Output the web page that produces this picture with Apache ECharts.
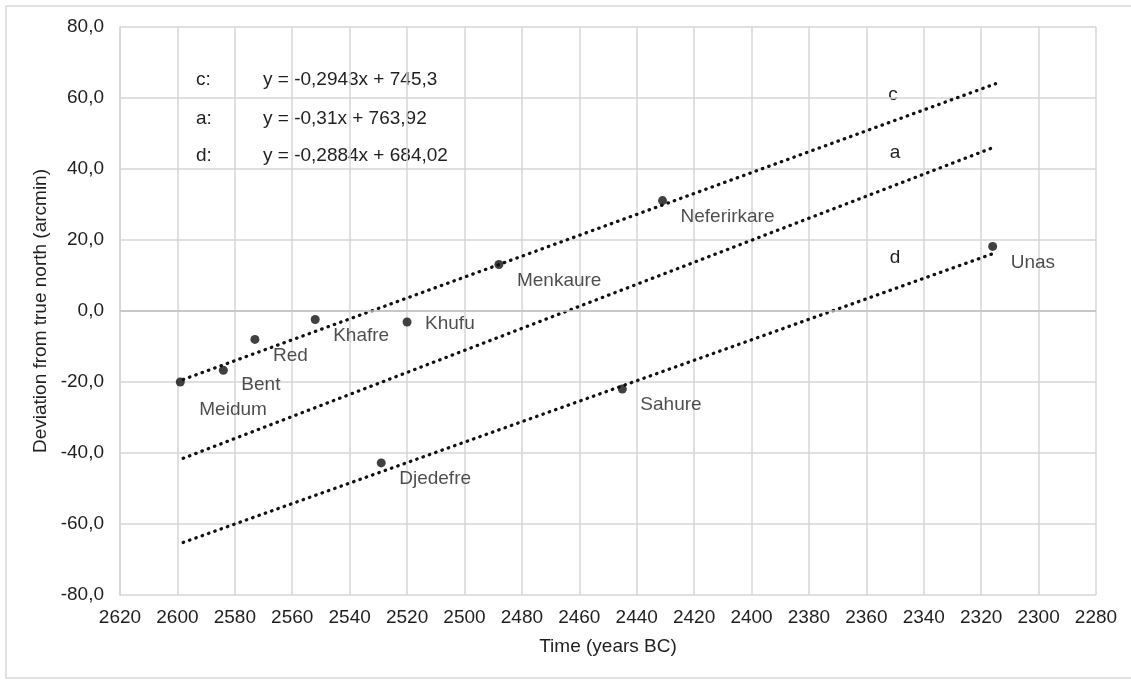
<!DOCTYPE html>
<html>
<head>
<meta charset="utf-8">
<script src="https://cdn.jsdelivr.net/npm/echarts@6/dist/echarts.min.js"></script>
<style>
  html, body { margin: 0; padding: 0; background: #fff; }
  #chart { width: 1131px; height: 680px; }
</style>
</head>
<body>
<div id="chart"></div>
<script>
// pyramids
var pyramidNames = ['Meidum', 'Bent', 'Red', 'Khafre', 'Khufu', 'Djedefre', 'Menkaure', 'Neferirkare', 'Sahure', 'Unas'];
var pyramidYears = [2599, 2584, 2573, 2552, 2520, 2529, 2488, 2431, 2445, 2316];
var pyramidDeviation = [-20.0, -16.7, -8.0, -2.4, -3.1, -42.8, 13.1, 31.1, -22.0, 18.2];

// trend lines (end points)
var trendYears = [2598, 2315];
var trendC = [-19.3, 64.0];
var trendA = [-41.5, 46.3];
var trendD = [-65.2, 16.4];

var equationKeys = ['c:', 'a:', 'd:'];
var equationTexts = ['y = -0,2943x + 745,3', 'y = -0,31x + 763,92', 'y = -0,2884x + 684,02'];

var xTicks = { min: 2280, max: 2620, step: 20 };
var yTicks = { min: -80, max: 80, step: 20 };

var FONT = '"Liberation Sans", Arial, sans-serif';
var FS = 19;
var TEXT_COLOR = '#1f1f1f';
var GRID_COLOR = '#d6d6d6';

// label nudges (px from point centre)
var labelNudge = { Meidum: [19, 28], Khufu: [18, 2], Bent: [18, 14] };

var chartDom = document.getElementById('chart');
var myChart = echarts.init(chartDom);

var scatterData = pyramidNames.map(function (n, i) {
  var off = labelNudge[n] || [18, 16];
  return {
    name: n,
    value: [pyramidYears[i], pyramidDeviation[i]],
    label: { position: [4.5 + off[0], 4.5 + off[1]] }
  };
});

function trendSeries(name, vals) {
  return {
    name: name,
    type: 'line',
    data: trendYears.map(function (x, i) { return [x, vals[i]]; }),
    symbol: 'none',
    silent: true,
    z: 3,
    lineStyle: { color: '#111', width: 3.3, type: [0.5, 6.2], cap: 'round' }
  };
}

var graphics = [
  {
    type: 'rect',
    shape: { x: 6, y: 6, width: 1140, height: 672 },
    style: { fill: 'none', stroke: '#d9d9d9', lineWidth: 1.5 },
    silent: true
  }
];
var eqY = [80, 119, 156];
equationKeys.forEach(function (k, i) {
  graphics.push({
    type: 'text', x: 196, y: eqY[i],
    style: { text: k, font: FS + 'px ' + FONT, fill: TEXT_COLOR, verticalAlign: 'middle' }
  });
  graphics.push({
    type: 'text', x: 263, y: eqY[i],
    style: { text: equationTexts[i], font: FS + 'px ' + FONT, fill: TEXT_COLOR, verticalAlign: 'middle' }
  });
});
// line names
[['c', 893, 95], ['a', 895, 153], ['d', 895, 258]].forEach(function (t) {
  graphics.push({
    type: 'text', x: t[1], y: t[2],
    style: { text: t[0], font: FS + 'px ' + FONT, fill: TEXT_COLOR, align: 'center', verticalAlign: 'middle' }
  });
});

var option = {
  backgroundColor: '#fff',
  animation: false,
  grid: { left: 120, right: 35, top: 27, bottom: 85, containLabel: false },
  xAxis: {
    type: 'value',
    inverse: true,
    min: xTicks.min,
    max: xTicks.max,
    interval: xTicks.step,
    name: 'Time (years BC)',
    nameLocation: 'middle',
    nameGap: 42,
    nameTextStyle: { color: TEXT_COLOR, fontSize: FS, fontFamily: FONT },
    axisLine: { show: true, lineStyle: { color: GRID_COLOR, width: 1.5 } },
    axisTick: { show: false },
    axisLabel: {
      color: TEXT_COLOR, fontSize: FS, fontFamily: FONT, margin: 13,
      formatter: function (v) { return String(v); }
    },
    splitLine: { show: true, lineStyle: { color: GRID_COLOR, width: 1.5 } }
  },
  yAxis: {
    type: 'value',
    min: yTicks.min,
    max: yTicks.max,
    interval: yTicks.step,
    name: 'Deviation from true north (arcmin)',
    nameLocation: 'middle',
    nameGap: 69,
    nameTextStyle: { color: TEXT_COLOR, fontSize: FS, fontFamily: FONT },
    axisLine: { show: true, lineStyle: { color: GRID_COLOR, width: 1.5 } },
    axisTick: { show: false },
    axisLabel: {
      color: TEXT_COLOR, fontSize: FS, fontFamily: FONT, margin: 16,
      formatter: function (v) { return v.toFixed(1).replace('.', ','); }
    },
    splitLine: { show: true, lineStyle: { color: GRID_COLOR, width: 1.5 } }
  },
  series: [
    trendSeries('c', trendC),
    trendSeries('a', trendA),
    trendSeries('d', trendD),
    {
      name: 'pyramids',
      type: 'scatter',
      symbol: 'circle',
      symbolSize: 9,
      z: 5,
      itemStyle: { color: '#111' },
      data: scatterData,
      label: {
        show: true,
        formatter: '{b}',
        align: 'left',
        verticalAlign: 'middle',
        color: TEXT_COLOR,
        fontSize: FS,
        fontFamily: FONT
      },
      markLine: {
        silent: true,
        symbol: 'none',
        label: { show: false },
        lineStyle: { color: '#c2c2c2', width: 1.5, type: 'solid' },
        data: [{ yAxis: 0 }]
      }
    }
  ],
  graphic: { elements: graphics }
};

myChart.setOption(option);
window.addEventListener('resize', function () {
  myChart.resize();
});
</script>
</body>
</html>
